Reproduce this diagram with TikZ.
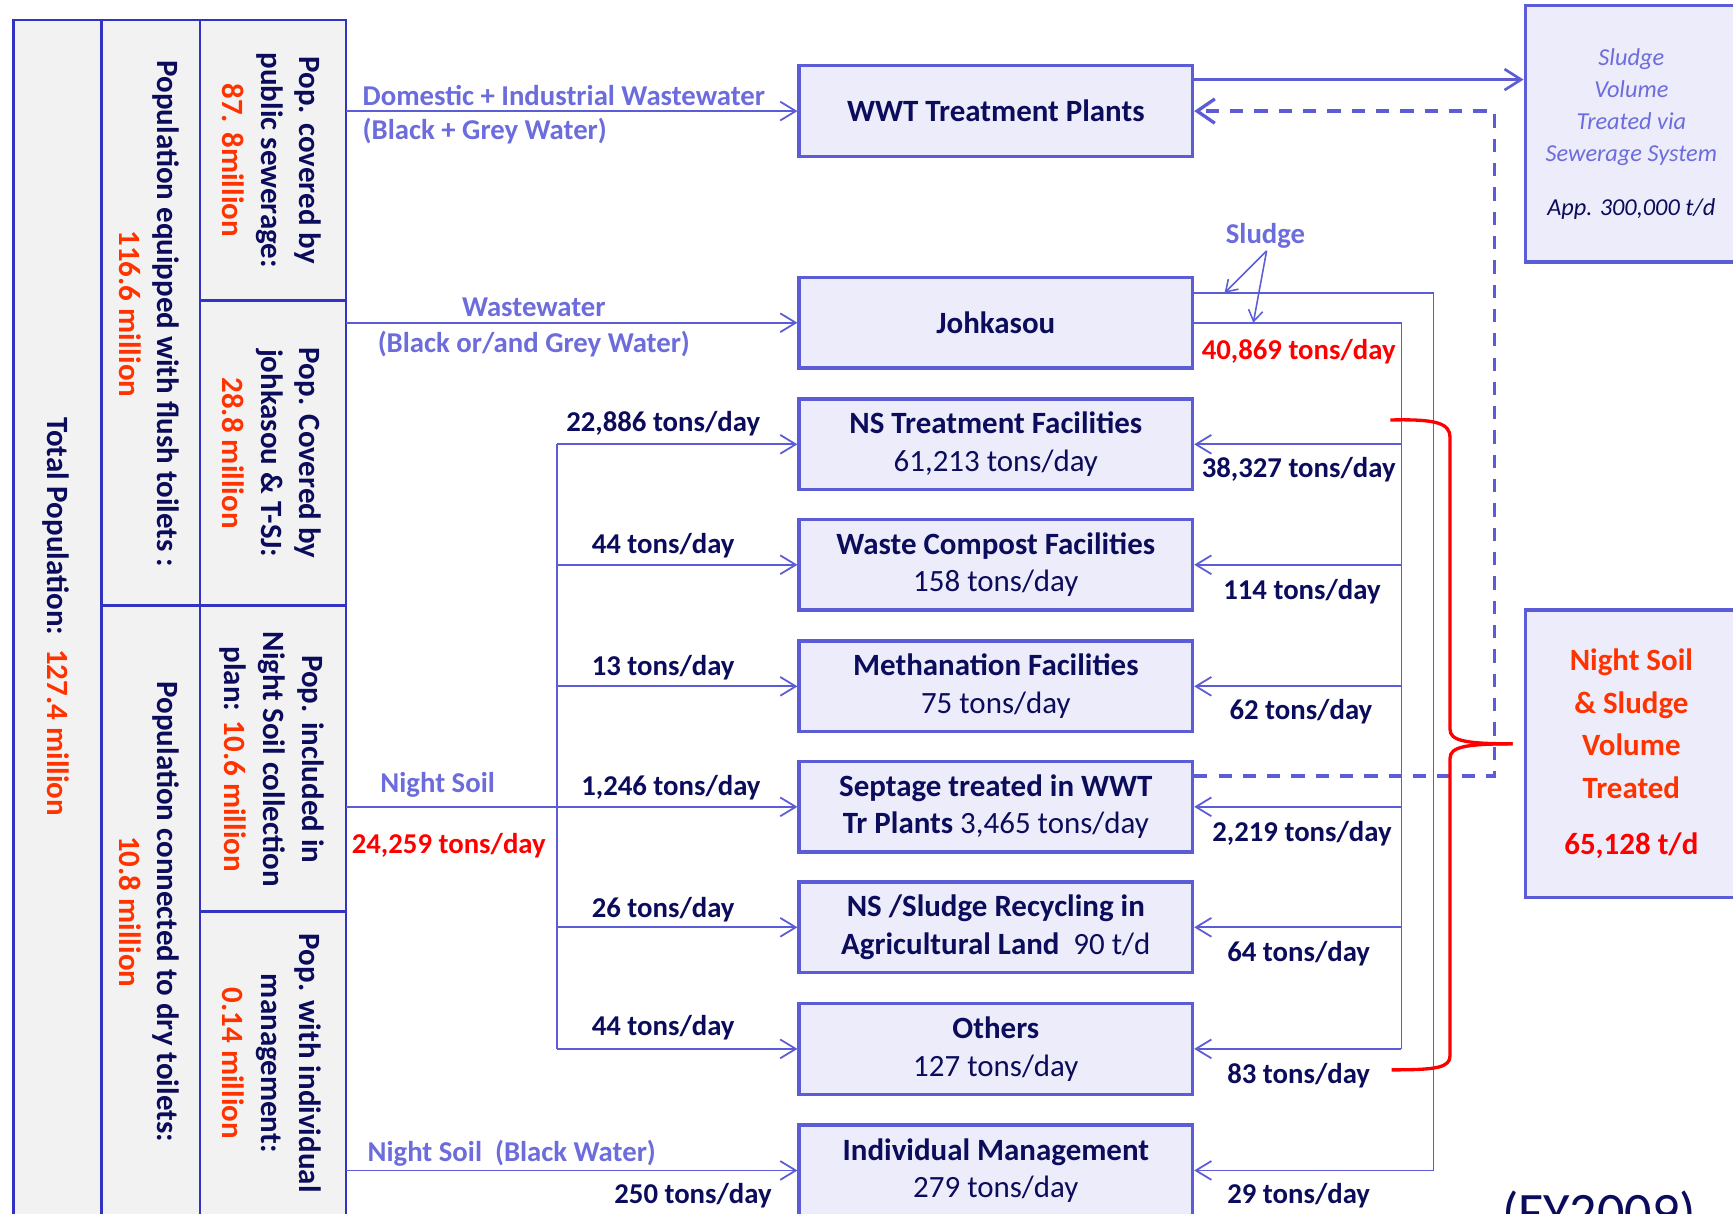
\documentclass[tikz,border=0pt]{standalone}
\usepackage{fontspec}
\setmainfont{Carlito}
\usetikzlibrary{arrows.meta,calc}
\definecolor{navy}{RGB}{12,12,92}
\definecolor{lblue}{RGB}{108,108,220}
\definecolor{connc}{RGB}{92,92,214}
\definecolor{tabc}{RGB}{50,50,195}
\definecolor{boxfill}{RGB}{236,236,250}
\definecolor{tabfill}{RGB}{242,242,242}
\definecolor{ored}{RGB}{255,51,0}
\definecolor{pred}{RGB}{255,0,0}
\tikzset{
  box/.style={draw=connc, line width=3pt, fill=boxfill, minimum width=356pt, minimum height=82pt, inner sep=0pt, align=center, text=navy, font=\fontsize{28}{34}\selectfont\bfseries},
  bigbox/.style={draw=connc, line width=3pt, fill=boxfill, minimum width=192pt, inner sep=0pt, align=center},
  cline/.style={draw=connc, line width=1.6pt},
  arr/.style={cline, -{Straight Barb[length=14pt,width=17pt]}},
  lbl/.style={text=lblue, font=\fontsize{26}{30}\selectfont\bfseries, inner sep=0pt},
  flow/.style={text=navy, font=\fontsize{26}{30}\selectfont\bfseries, inner sep=0pt},
  redlbl/.style={text=pred, font=\fontsize{26}{30}\selectfont\bfseries, inner sep=0pt},
  rot/.style={rotate=-90, align=center, text=navy, font=\fontsize{28}{35}\selectfont\bfseries, inner sep=0pt},
  tabline/.style={draw=tabc, line width=2.5pt},
}
\begin{document}
\begin{tikzpicture}[x=1pt,y=-1pt]
\useasboundingbox (0,0) rectangle (1568,1098);
\clip (0,0) rectangle (1568,1098);
\fill[white] (0,0) rectangle (1568,1098);

% ---------- left table ----------
\fill[tabfill] (12,18) rectangle (313,1120);
\draw[tabline] (12,1120) -- (12,18) -- (313,18) -- (313,1120);
\draw[tabline] (92,18) -- (92,1120);
\draw[tabline] (181,18) -- (181,1120);
\draw[tabline] (181,272) -- (313,272);
\draw[tabline] (92,548) -- (313,548);
\draw[tabline] (181,825) -- (313,825);

\node[rot] (tp) at (51,558) {Total Population:\ \ {\color{ored}127.4 million}};
\node[rot, font=\fontsize{28}{34}\selectfont\bfseries] (fl) at (135,284) {Population equipped with flush toilets :\\{\color{ored}116.6 million}};
\node[rot, font=\fontsize{28}{34}\selectfont\bfseries] (dry) at (135,825) {Population connected to dry toilets:\\{\color{ored}10.8 million}};
\node[rot] (c1) at (246,145) {Pop. covered by\\public sewerage:\\{\color{ored}87. 8million}};
\node[rot] (c2) at (246,410) {Pop. Covered by\\johkasou \& T-SJ:\\{\color{ored}28.8 million}};
\node[rot] (c3) at (246,687) {Pop. included in\\Night Soil collection\\plan: {\color{ored}10.6 million}};
\node[rot] (c4) at (246,962) {Pop. with individual\\management:\\{\color{ored}0.14 million}};

% ---------- boxes ----------
\node[box] (wwt) at (901,100.5) {WWT Treatment Plants};
\node[box] (joh) at (901,292) {Johkasou};
\node[box] (nst) at (901,402) {NS Treatment Facilities\\\mdseries 61,213 tons/day};
\node[box] (wcf) at (901,511) {Waste Compost Facilities\\\mdseries 158 tons/day};
\node[box] (meth) at (901,621) {Methanation Facilities\\\mdseries 75 tons/day};
\node[box] (sept) at (901,730) {Septage treated in WWT\\Tr Plants {\mdseries 3,465 tons/day}};
\node[box] (nsr) at (901,839) {NS /Sludge Recycling in\\Agricultural Land\ \ {\mdseries 90 t/d}};
\node[box] (oth) at (901,949) {Others\\\mdseries 127 tons/day};
\node[box] (ind) at (901,1059) {Individual Management\\\mdseries 279 tons/day};

\node[bigbox, minimum height=232pt, text=lblue, font=\fontsize{22}{29}\selectfont\itshape] (svt) at (1476,121)
  {Sludge\\Volume\\Treated via\\Sewerage System\\[20pt]{\color{navy}App. 300,000 t/d}};
\node[bigbox, minimum height=260pt, text=ored, font=\fontsize{28}{38.7}\selectfont\bfseries] (nsv) at (1476,682)
  {Night Soil\\\& Sludge\\Volume\\Treated\\[12pt]{\color{pred}65,128 t/d}};

% ---------- inflows from table ----------
\coordinate (s1) at (313,100.5);
\coordinate (s2) at (313,292);
\coordinate (s3) at (313,730);
\coordinate (s4) at (313,1059);
\draw[arr] (s1) -- (wwt.west);
\draw[arr] (s2) -- (joh.west);
\draw[arr] (s3) -- (sept.west);
\draw[arr] (s4) -- (ind.west);
\node[lbl, anchor=west] (l1) at (328,86) {Domestic + Industrial Wastewater};
\node[lbl, anchor=west] (l2) at (328,119) {(Black + Grey Water)};
\node[lbl] (l3) at (483,278) {Wastewater};
\node[lbl] (l4) at (483,311) {(Black or/and Grey Water)};
\node[lbl] (l5) at (396,710) {Night Soil};
\node[redlbl] (l6) at (406,765) {24,259 tons/day};
\node[lbl] (l7) at (463,1043) {Night Soil\ \ (Black Water)};
\node[flow] (l8) at (627,1082) {250 tons/day};

% ---------- night soil distribution (left) ----------
\coordinate (bx) at (504,0);
\draw[cline] (bx |- nst.west) -- (bx |- oth.west);
\foreach \b in {nst,wcf,meth,nsr,oth} {\draw[arr] (bx |- \b.west) -- (\b.west);}
\node[flow] (f1) at (600,383) {22,886 tons/day};
\node[flow] (f2) at (600,494) {44 tons/day};
\node[flow] (f3) at (600,604) {13 tons/day};
\node[flow] (f4) at (607,713) {1,246 tons/day};
\node[flow] (f5) at (600,823) {26 tons/day};
\node[flow] (f6) at (600,930) {44 tons/day};

% ---------- WWT to sludge box ----------
\coordinate (w1) at ($(wwt.east)+(0,-28.5)$);
\draw[cline, line width=2.4pt, -{Straight Barb[length=15pt,width=19pt]}] (w1) -- (w1 -| svt.west);

% ---------- dashed return ----------
\coordinate (d1) at (1352,702);
\draw[draw=connc, line width=3pt, dash pattern=on 12pt off 10pt, -{Straight Barb[length=16pt,width=22pt]}]
  (sept.east |- d1) -- (d1) -- (d1 |- wwt.east) -- (wwt.east);

% ---------- johkasou sludge (right) ----------
\coordinate (jx) at (1297,0);
\coordinate (kx) at (1268,0);
\coordinate (ju) at ($(joh.east)+(0,-27)$);
\draw[arr] (ju) -- (ju -| jx) -- (jx |- ind.east) -- (ind.east);
\draw[cline] (joh.east) -- (joh.east -| kx) -- (kx |- oth.east);
\foreach \b in {nst,wcf,meth,sept,nsr,oth} {\draw[arr] (kx |- \b.east) -- (\b.east);}
\node[redlbl] (r0) at (1175,318) {40,869 tons/day};
\node[flow] (r1) at (1175,425) {38,327 tons/day};
\node[flow] (r2) at (1178,535) {114 tons/day};
\node[flow] (r3) at (1177,644) {62 tons/day};
\node[flow] (r4) at (1178,754) {2,219 tons/day};
\node[flow] (r5) at (1175,863) {64 tons/day};
\node[flow] (r6) at (1175,973) {83 tons/day};
\node[flow] (r7) at (1175,1082) {29 tons/day};

\node[lbl] (sl) at (1145,213) {Sludge};
\coordinate (sl0) at (1146,227);
\coordinate (sa) at (1108,265);
\coordinate (sb) at (1134,292);
\draw[cline, line width=1.4pt, -{Straight Barb[length=10pt,width=13pt]}] (sl0) -- (sa);
\draw[cline, line width=1.4pt, -{Straight Barb[length=10pt,width=13pt]}] (sl0) -- (sb);

% ---------- red brace ----------
\coordinate (bt) at ($(nsv.west)+(-10,-9)$);
\draw[pred, line width=3pt] (1258,380) .. controls (1300,379) and (1312,383) .. (1312,396) -- (1312,660)
  .. controls (1312,670) and (1325,673) .. (bt);
\draw[pred, line width=3pt] (bt) .. controls (1325,673) and (1312,676) .. (1312,686) -- (1312,955)
  .. controls (1312,966) and (1300,968) .. (1259,968);

% ---------- year ----------
\node[text=navy, font=\fontsize{49}{52}\selectfont, anchor=base, inner sep=0pt] (fy) at (1447,1113) {(FY2009)};
\end{tikzpicture}
\end{document}
